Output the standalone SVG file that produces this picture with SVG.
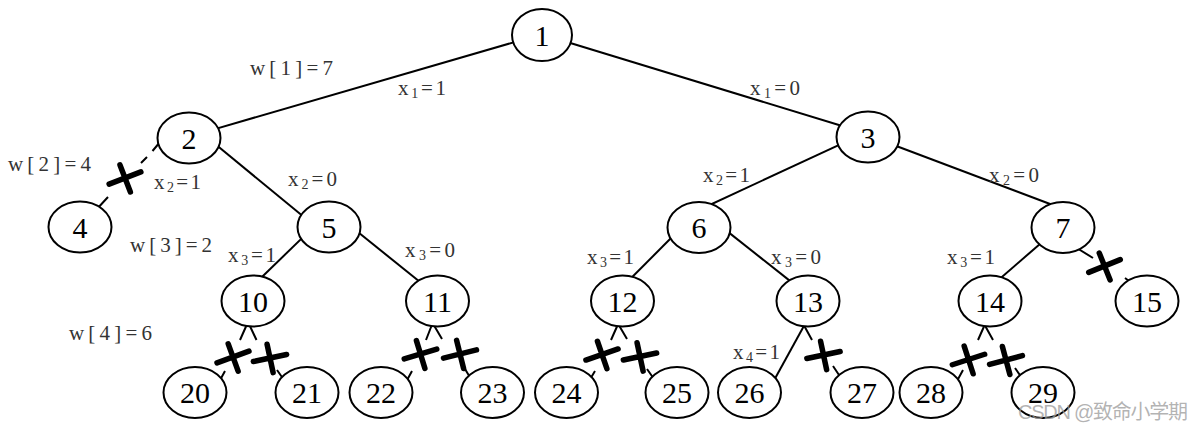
<svg xmlns="http://www.w3.org/2000/svg" xmlns:xlink="http://www.w3.org/1999/xlink" width="1204" height="431" viewBox="0 0 1204 431">
<style>
.n ellipse{fill:#fff;stroke:#000;stroke-width:2}
.n text{font-family:"Liberation Serif",serif;font-size:30px;text-anchor:middle;fill:#000}
.e{stroke:#000;stroke-width:2;fill:none}
.x{stroke:#000;stroke-width:5.5;stroke-linecap:round;fill:none}
.lb{font-family:"Liberation Serif",serif;font-size:21px;fill:#333}
.sub{font-size:14px}
.wm{font-family:"Liberation Sans","Noto Sans CJK SC",sans-serif;font-size:20px;fill:#9a9a9a;fill-opacity:0.75}
</style>
<defs>
<path id="cross" class="x" d="M-17,0 L17,0 M0,-14 L0,15"/>
</defs>
<rect width="1204" height="431" fill="#fff"/>
<g id="connectors">
<path class="e" d="M525,39 L208,131.1"/>
<path class="e" d="M558,39.3 L852,129"/>
<path class="e" d="M210,139.8 L310,222"/>
<path class="e" d="M850,139.8 L700,209.5"/>
<path class="e" d="M885,141.8 L1062,208.5"/>
<path class="e" d="M310,230.4 L256,282.7"/>
<path class="e" d="M349.5,225.3 L425,286"/>
<path class="e" d="M679,230 L625.5,283.8"/>
<path class="e" d="M720.7,226.1 L795,284.9"/>
<path class="e" d="M1046,238.7 L995,283"/>
<path class="e" d="M805,324 L772,384"/>
<path class="e" d="M160,142 L152.5,151 M147,157 L141,163 M108,197 L96,210"/>
<use xlink:href="#cross" href="#cross" transform="translate(125,178) rotate(-21)"/>
<path class="e" d="M248,322 L240,340 M225,371 L219,382"/>
<use xlink:href="#cross" href="#cross" transform="translate(233,357) rotate(-20)"/>
<path class="e" d="M248,322 L256.5,340 M277,370 L284,380"/>
<use xlink:href="#cross" href="#cross" transform="translate(270,358) rotate(-12)"/>
<path class="e" d="M433,322 L426,340 M412,371 L406,382"/>
<use xlink:href="#cross" href="#cross" transform="translate(420.5,354) rotate(-17)"/>
<path class="e" d="M432,322 L442,339 M465,369 L471,379"/>
<use xlink:href="#cross" href="#cross" transform="translate(460,354) rotate(-14)"/>
<path class="e" d="M619,322 L611,340 M595,371 L589,381"/>
<use xlink:href="#cross" href="#cross" transform="translate(602,354.5) rotate(-19)"/>
<path class="e" d="M617,322 L627,339 M647,369 L654,379"/>
<use xlink:href="#cross" href="#cross" transform="translate(640,356.5) rotate(-12)"/>
<path class="e" d="M801,320 L812,340 M833,366 L841,378"/>
<use xlink:href="#cross" href="#cross" transform="translate(823.5,355) rotate(-12)"/>
<path class="e" d="M986,322 L978,340 M963,370 L957,381"/>
<use xlink:href="#cross" href="#cross" transform="translate(968.5,359.5) rotate(-18)"/>
<path class="e" d="M983,322 L993,340 M1015,368 L1022,378"/>
<use xlink:href="#cross" href="#cross" transform="translate(1006,360) rotate(-15)"/>
<path class="e" d="M1072,245 L1093,258 M1125,278 L1133,284"/>
<use xlink:href="#cross" href="#cross" transform="translate(1104.5,266) rotate(-22)"/>
</g>
<g id="labels">
<text class="lb" x="250" y="75" textLength="83">w[1]=7</text>
<text class="lb" x="398" y="95" textLength="48">x<tspan class="sub" dy="3">1</tspan><tspan dy="-3">=1</tspan></text>
<text class="lb" x="750" y="95" textLength="50">x<tspan class="sub" dy="3">1</tspan><tspan dy="-3">=0</tspan></text>
<text class="lb" x="8" y="171" textLength="83">w[2]=4</text>
<text class="lb" x="154" y="189" textLength="47">x<tspan class="sub" dy="3">2</tspan><tspan dy="-3">=1</tspan></text>
<text class="lb" x="288" y="186" textLength="49">x<tspan class="sub" dy="3">2</tspan><tspan dy="-3">=0</tspan></text>
<text class="lb" x="703" y="182" textLength="47">x<tspan class="sub" dy="3">2</tspan><tspan dy="-3">=1</tspan></text>
<text class="lb" x="989" y="182" textLength="50">x<tspan class="sub" dy="3">2</tspan><tspan dy="-3">=0</tspan></text>
<text class="lb" x="130" y="252" textLength="82">w[3]=2</text>
<text class="lb" x="228" y="262" textLength="48">x<tspan class="sub" dy="3">3</tspan><tspan dy="-3">=1</tspan></text>
<text class="lb" x="405" y="257" textLength="50">x<tspan class="sub" dy="3">3</tspan><tspan dy="-3">=0</tspan></text>
<text class="lb" x="587" y="264" textLength="47">x<tspan class="sub" dy="3">3</tspan><tspan dy="-3">=1</tspan></text>
<text class="lb" x="771" y="264" textLength="50">x<tspan class="sub" dy="3">3</tspan><tspan dy="-3">=0</tspan></text>
<text class="lb" x="947" y="264" textLength="48">x<tspan class="sub" dy="3">3</tspan><tspan dy="-3">=1</tspan></text>
<text class="lb" x="69" y="340" textLength="83">w[4]=6</text>
<text class="lb" x="733" y="359" textLength="47">x<tspan class="sub" dy="3">4</tspan><tspan dy="-3">=1</tspan></text>
</g>
<g id="n1" class="n"><ellipse cx="542" cy="35" rx="30" ry="26"/><text x="542" y="45.5">1</text></g>
<g id="n2" class="n"><ellipse cx="189" cy="138" rx="31.5" ry="25.5"/><text x="189" y="148.5">2</text></g>
<g id="n3" class="n"><ellipse cx="868" cy="137" rx="31.5" ry="25.5"/><text x="868" y="147.5">3</text></g>
<g id="n4" class="n"><ellipse cx="80" cy="227" rx="31.5" ry="25.5"/><text x="80" y="237.5">4</text></g>
<g id="n5" class="n"><ellipse cx="329" cy="227" rx="31.5" ry="25.5"/><text x="329" y="237.5">5</text></g>
<g id="n6" class="n"><ellipse cx="699" cy="227.5" rx="31.5" ry="25.5"/><text x="699" y="238">6</text></g>
<g id="n7" class="n"><ellipse cx="1063" cy="227.5" rx="31.5" ry="25.5"/><text x="1063" y="238">7</text></g>
<g id="n10" class="n"><ellipse cx="253" cy="301" rx="31.5" ry="25.5"/><text x="253" y="311.5">10</text></g>
<g id="n11" class="n"><ellipse cx="437.5" cy="301" rx="31.5" ry="25.5"/><text x="437.5" y="311.5">11</text></g>
<g id="n12" class="n"><ellipse cx="622.5" cy="301" rx="31.5" ry="25.5"/><text x="622.5" y="311.5">12</text></g>
<g id="n13" class="n"><ellipse cx="808" cy="301" rx="31.5" ry="25.5"/><text x="808" y="311.5">13</text></g>
<g id="n14" class="n"><ellipse cx="990" cy="301" rx="31.5" ry="25.5"/><text x="990" y="311.5">14</text></g>
<g id="n15" class="n"><ellipse cx="1147" cy="301" rx="31.5" ry="25.5"/><text x="1147" y="311.5">15</text></g>
<g id="n20" class="n"><ellipse cx="195" cy="392.5" rx="31.5" ry="25.5"/><text x="195" y="403">20</text></g>
<g id="n21" class="n"><ellipse cx="307" cy="392.5" rx="31.5" ry="25.5"/><text x="307" y="403">21</text></g>
<g id="n22" class="n"><ellipse cx="381" cy="392.5" rx="31.5" ry="25.5"/><text x="381" y="403">22</text></g>
<g id="n23" class="n"><ellipse cx="492.5" cy="392.5" rx="31.5" ry="25.5"/><text x="492.5" y="403">23</text></g>
<g id="n24" class="n"><ellipse cx="566.5" cy="392.5" rx="31.5" ry="25.5"/><text x="566.5" y="403">24</text></g>
<g id="n25" class="n"><ellipse cx="677" cy="392.5" rx="31.5" ry="25.5"/><text x="677" y="403">25</text></g>
<g id="n26" class="n"><ellipse cx="749.5" cy="392.5" rx="31.5" ry="25.5"/><text x="749.5" y="403">26</text></g>
<g id="n27" class="n"><ellipse cx="862" cy="392.5" rx="31.5" ry="25.5"/><text x="862" y="403">27</text></g>
<g id="n28" class="n"><ellipse cx="931" cy="392.5" rx="31.5" ry="25.5"/><text x="931" y="403">28</text></g>
<g id="n29" class="n"><ellipse cx="1043" cy="392.5" rx="31.5" ry="25.5"/><text x="1043" y="403">29</text></g>
<text class="wm" x="1018" y="419" textLength="170">CSDN @致命小学期</text>
</svg>
